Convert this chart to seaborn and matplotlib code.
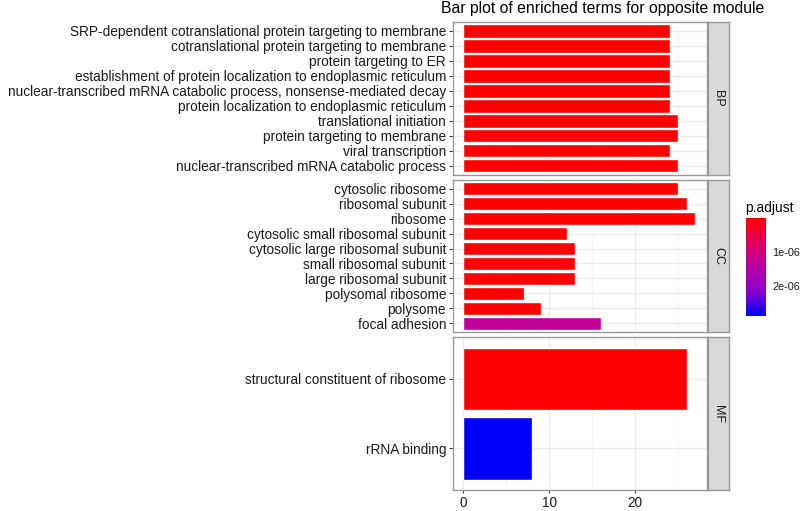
import numpy as np
import pandas as pd
import matplotlib
matplotlib.use("Agg")
import matplotlib.pyplot as plt
import matplotlib.colors as mcolors
import matplotlib.colorbar as mcolorbar
import seaborn as sns

# terms listed top to bottom inside each facet
bp_terms = ["SRP-dependent cotranslational protein targeting to membrane",
            "cotranslational protein targeting to membrane",
            "protein targeting to ER",
            "establishment of protein localization to endoplasmic reticulum",
            "nuclear-transcribed mRNA catabolic process, nonsense-mediated decay",
            "protein localization to endoplasmic reticulum",
            "translational initiation",
            "protein targeting to membrane",
            "viral transcription",
            "nuclear-transcribed mRNA catabolic process"]
bp_counts = [24, 24, 24, 24, 24, 24, 25, 25, 24, 25]
bp_padj = [1e-12] * 10

cc_terms = ["cytosolic ribosome", "ribosomal subunit", "ribosome",
            "cytosolic small ribosomal subunit", "cytosolic large ribosomal subunit",
            "small ribosomal subunit", "large ribosomal subunit",
            "polysomal ribosome", "polysome", "focal adhesion"]
cc_counts = [25, 26, 27, 12, 13, 13, 13, 7, 9, 16]
cc_padj = [1e-12, 1e-12, 1e-12, 1e-10, 1e-10, 1e-10, 1e-10, 2e-9, 5e-9, 1.3e-06]

mf_terms = ["structural constituent of ribosome", "rRNA binding"]
mf_counts = [26, 8]
mf_padj = [1e-12, 2.9e-06]

facets = ["BP", "CC", "MF"]

df = pd.concat([
    pd.DataFrame({"term": bp_terms, "Count": bp_counts, "p.adjust": bp_padj, "ONT": "BP"}),
    pd.DataFrame({"term": cc_terms, "Count": cc_counts, "p.adjust": cc_padj, "ONT": "CC"}),
    pd.DataFrame({"term": mf_terms, "Count": mf_counts, "p.adjust": mf_padj, "ONT": "MF"}),
], ignore_index=True)

sns.set_theme(style="white")
plt.rcParams["font.family"] = ["Liberation Sans", "DejaVu Sans"]

# red -> blue, roughly like ggplot's Lab gradient
cmap = mcolors.LinearSegmentedColormap.from_list(
    "padj", ["#FF0000", "#E0005E", "#B800A6", "#8A00C8", "#0000FF"])
vmin, vmax = df["p.adjust"].min(), df["p.adjust"].max()
norm = mcolors.Normalize(vmin=vmin, vmax=vmax)

W, H = 800, 511
fig = plt.figure(figsize=(W / 100, H / 100), dpi=100)

left, right = 453, 707
top, bottom = 22, 490
gap = 5
ph = (bottom - top - 2 * gap) / 3
strip_w = 21
grid_col = "#EBEBEB"

xmax = df["Count"].max()
xlim = (-0.045 * xmax, xmax * 1.05)

for i, ont in enumerate(facets):
    sub = df[df["ONT"] == ont]
    y0 = top + i * (ph + gap)
    ax = fig.add_axes([left / W, 1 - (y0 + ph) / H, (right - left) / W, ph / H])
    pal = {t: cmap(norm(p)) for t, p in zip(sub["term"], sub["p.adjust"])}
    sns.barplot(data=sub, x="Count", y="term", hue="term", palette=pal,
                order=list(sub["term"]), hue_order=list(sub["term"]),
                legend=False, width=0.9, saturation=1, ax=ax, zorder=3)
    n = len(sub)
    ax.set_xlim(*xlim)
    ax.set_ylim(n - 1 + 0.6, -0.6)
    ax.set_xticks([0, 10, 20])
    ax.set_xticks([5, 15, 25], minor=True)
    ax.grid(True, which="major", color=grid_col, lw=0.9, zorder=0)
    ax.grid(True, which="minor", axis="x", color="#F5F5F5", lw=0.6, zorder=0)
    ax.set_axisbelow(True)
    ax.set_xlabel("")
    ax.set_ylabel("")
    for s in ax.spines.values():
        s.set_color("#999999")
        s.set_linewidth(1.0)
    ax.tick_params(axis="y", left=True, length=3, width=0.7, color="#333333",
                   labelsize=9.85, labelcolor="#1A1A1A", pad=2)
    if i == 2:
        ax.tick_params(axis="x", bottom=True, length=2.5, width=0.7, color="#333333",
                       labelsize=9.85, labelcolor="#1A1A1A", pad=1.5)
    else:
        ax.tick_params(axis="x", bottom=False, labelbottom=False)
    ax.tick_params(which="minor", bottom=False)

    # facet strip on the right
    sax = fig.add_axes([(right + 1) / W, 1 - (y0 + ph) / H, strip_w / W, ph / H])
    sax.set_facecolor("#D9D9D9")
    sax.set_xticks([])
    sax.set_yticks([])
    for s in sax.spines.values():
        s.set_color("#999999")
        s.set_linewidth(1.0)
    sax.text(0.5, 0.5, ont, rotation=-90, ha="center", va="center",
             fontsize=9, color="#1A1A1A", transform=sax.transAxes)

fig.text(603 / W, 1 - 9 / H, "Bar plot of enriched terms for opposite module",
         ha="center", va="center", fontsize=11.3, color="black")

# colour bar, small values on top
cax = fig.add_axes([746 / W, 1 - 316 / H, 20 / W, 98 / H])
cb = mcolorbar.ColorbarBase(cax, cmap=cmap, norm=norm, orientation="vertical")
cax.invert_yaxis()
cb.set_ticks([1e-06, 2e-06])
cb.set_ticklabels(["1e-06", "2e-06"])
cb.outline.set_visible(False)
cax.tick_params(axis="y", right=True, left=True, direction="in", length=4,
                width=0.8, color="white", labelsize=7.8, labelcolor="#1A1A1A", pad=4.5)
fig.text(745 / W, 1 - 208 / H, "p.adjust", ha="left", va="center",
         fontsize=10, color="black")

fig.savefig("out.png", dpi=100)
